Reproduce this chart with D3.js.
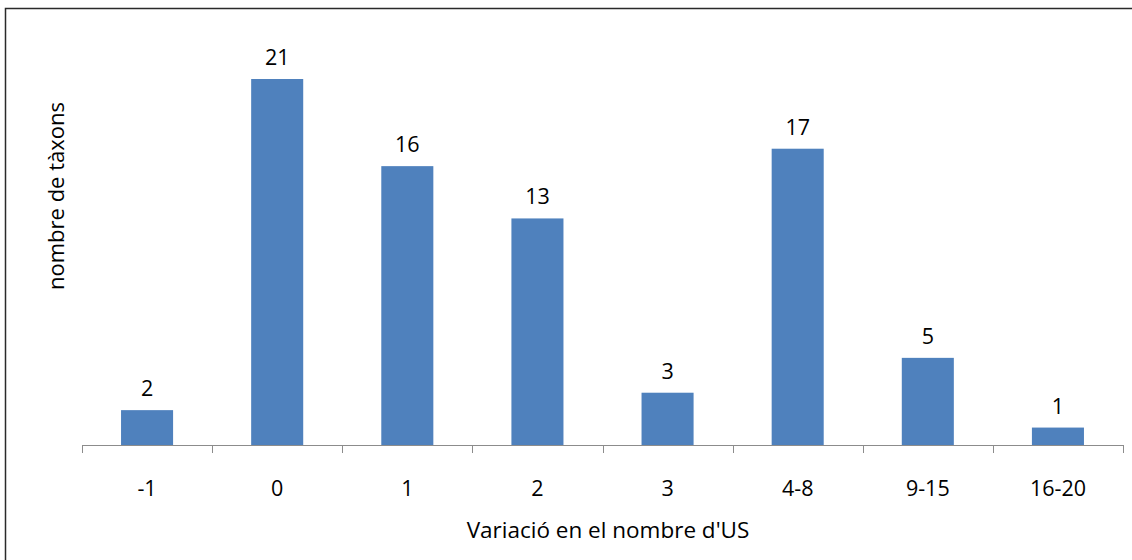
<!DOCTYPE html>
<html>
<head>
<meta charset="utf-8">
<script src="https://cdn.jsdelivr.net/npm/d3@7"></script>
<style>
  html, body { margin: 0; padding: 0; background: #fff; }
  svg { display: block; }
  text { font-family: "Open Sans", sans-serif; fill: #000; }
</style>
</head>
<body>
<svg id="chart" width="1132" height="560"></svg>
<script>
// Categories: change in the number of US
const categories = ["-1", "0", "1", "2", "3", "4-8", "9-15", "16-20"];
// Number of taxa per category
const counts = [2, 21, 16, 13, 3, 17, 5, 1];

const xTitle = "Variació en el nombre d'US";
const yTitle = "nombre de tàxons";

const svg = d3.select("#chart");
const W = 1132, H = 560;
const FS = 21.5;

// Outer frame (open on the right and bottom edges)
svg.append("rect")
  .attr("x", 5.5).attr("y", 8.5)
  .attr("width", W + 20).attr("height", H + 20)
  .attr("fill", "none")
  .attr("stroke", "#2a2a2a")
  .attr("stroke-width", 1.5);

const plot = { left: 82, right: 1123, top: 79, bottom: 445 };

const x = d3.scaleBand()
  .domain(categories)
  .range([plot.left, plot.right])
  .paddingInner(0.6)
  .paddingOuter(0.3);

const y = d3.scaleLinear()
  .domain([0, d3.max(counts)])
  .range([plot.bottom, plot.top]);

const data = categories.map((c, i) => ({ cat: c, v: counts[i] }));

// Bars
svg.append("g").selectAll("rect")
  .data(data)
  .join("rect")
  .attr("x", d => x(d.cat))
  .attr("y", d => y(d.v))
  .attr("width", x.bandwidth())
  .attr("height", d => y(0) - y(d.v))
  .attr("fill", "#4F81BD");

// Value labels above bars
svg.append("g").selectAll("text")
  .data(data)
  .join("text")
  .attr("x", d => x(d.cat) + x.bandwidth() / 2)
  .attr("y", d => y(d.v) - 14)
  .attr("text-anchor", "middle")
  .attr("font-size", FS)
  .text(d => d.v);

// Category axis: baseline with tick marks between categories
const step = x.step();
const axisG = svg.append("g");
axisG.append("line")
  .attr("x1", plot.left).attr("x2", plot.right)
  .attr("y1", plot.bottom + 0.5).attr("y2", plot.bottom + 0.5)
  .attr("stroke", "#8c8c8c").attr("stroke-width", 1);
const tickXs = d3.range(categories.length + 1).map(i => x(categories[0]) - step * x.paddingOuter() + i * step);
axisG.selectAll("line.tick")
  .data(tickXs)
  .join("line")
  .attr("class", "tick")
  .attr("x1", d => Math.round(d) + 0.5).attr("x2", d => Math.round(d) + 0.5)
  .attr("y1", plot.bottom).attr("y2", plot.bottom + 8)
  .attr("stroke", "#8c8c8c").attr("stroke-width", 1);

axisG.selectAll("text")
  .data(categories)
  .join("text")
  .attr("x", d => x(d) + x.bandwidth() / 2)
  .attr("y", 496)
  .attr("text-anchor", "middle")
  .attr("font-size", FS)
  .text(d => d);

// Axis titles
svg.append("text")
  .attr("x", 608)
  .attr("y", 538)
  .attr("text-anchor", "middle")
  .attr("font-size", 22.5)
  .attr("fill", "#222")
  .text(xTitle);

svg.append("text")
  .attr("transform", "translate(64,196) rotate(-90)")
  .attr("text-anchor", "middle")
  .attr("font-size", 22)
  .attr("fill", "#222")
  .text(yTitle);
</script>
</body>
</html>
